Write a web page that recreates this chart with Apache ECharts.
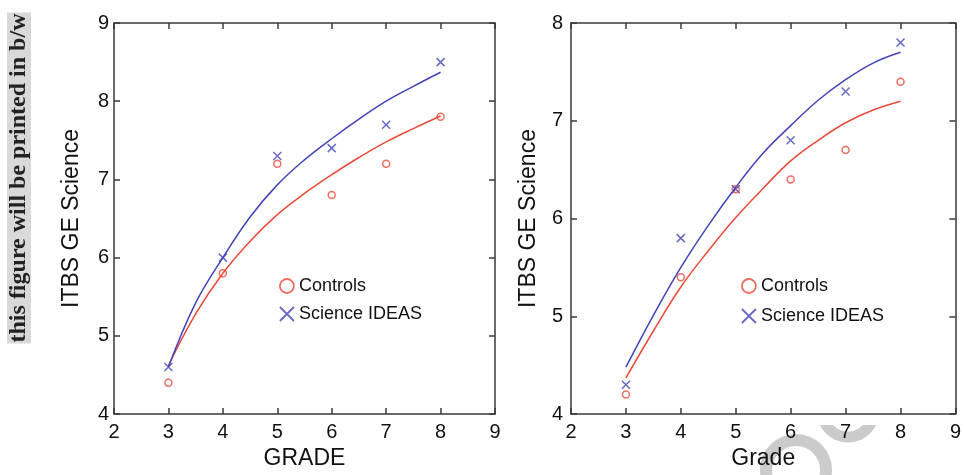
<!DOCTYPE html>
<html>
<head>
<meta charset="utf-8">
<script src="https://cdn.jsdelivr.net/npm/echarts@6/dist/echarts.min.js"></script>
<style>
  html, body { margin: 0; padding: 0; background: #fff; }
  #chart { width: 964px; height: 475px; }
</style>
</head>
<body>
<div id="chart"></div>
<script>
// observed scores per grade
const grades = [3, 4, 5, 6, 7, 8];
const controlsLeft = [4.4, 5.8, 7.2, 6.8, 7.2, 7.8];
const ideasLeft = [4.6, 6.0, 7.3, 7.4, 7.7, 8.5];
const controlsRight = [4.2, 5.4, 6.3, 6.4, 6.7, 7.4];
const ideasRight = [4.3, 5.8, 6.3, 6.8, 7.3, 7.8];

// fitted curves, every half grade
const fitGrades = [3, 3.5, 4, 4.5, 5, 5.5, 6, 6.5, 7, 7.5, 8];
const fitControlsLeft = [4.62, 5.28, 5.8, 6.21, 6.55, 6.82, 7.06, 7.28, 7.48, 7.65, 7.81];
const fitIdeasLeft = [4.6, 5.42, 6.0, 6.52, 6.93, 7.25, 7.52, 7.77, 8.0, 8.19, 8.37];
const fitControlsRight = [4.37, 4.85, 5.3, 5.67, 6.01, 6.31, 6.59, 6.8, 6.98, 7.11, 7.2];
const fitIdeasRight = [4.48, 5.01, 5.5, 5.93, 6.32, 6.67, 6.95, 7.21, 7.42, 7.59, 7.7];

// axis ranges
const xRange = [2, 9];
const yRangeLeft = [4, 9];
const yRangeRight = [4, 8];

const RED = '#ea4a3a';
const BLUE = '#4343b8';
const AXIS = '#3a3a3a';
const FONT = '"Liberation Sans", Arial, sans-serif';
const CROSS = 'path://M0,0L10,10M10,0L0,10';

const pairs = (xs, ys) => xs.map((x, i) => [x, ys[i]]);

function xAxes(grid, name, gap) {
  const base = {
    gridIndex: grid, type: 'value', min: xRange[0], max: xRange[1], interval: 1,
    axisLine: { show: true, onZero: false, lineStyle: { color: AXIS, width: 1.5 } },
    axisTick: { show: true, inside: true, length: 6, lineStyle: { color: AXIS, width: 1.5 } },
    splitLine: { show: false }
  };
  return [
    Object.assign({}, base, {
      position: 'bottom', name: name, nameLocation: 'middle', nameGap: gap,
      nameTextStyle: { fontSize: 23, color: '#111', fontFamily: FONT },
      axisLabel: { margin: 8, fontSize: 20, color: '#111', fontFamily: FONT }
    }),
    Object.assign({}, base, { position: 'top', axisLabel: { show: false } })
  ];
}

function yAxes(grid, range, gap, margin) {
  const base = {
    gridIndex: grid, type: 'value', min: range[0], max: range[1], interval: 1,
    axisLine: { show: true, onZero: false, lineStyle: { color: AXIS, width: 1.5 } },
    axisTick: { show: true, inside: true, length: 6, lineStyle: { color: AXIS, width: 1.5 } },
    splitLine: { show: false }
  };
  return [
    Object.assign({}, base, {
      position: 'left', name: 'ITBS GE Science', nameLocation: 'middle', nameGap: gap,
      nameTextStyle: { fontSize: 23, color: '#111', fontFamily: FONT },
      axisLabel: { margin: margin, fontSize: 20, color: '#111', fontFamily: FONT }
    }),
    Object.assign({}, base, { position: 'right', axisLabel: { show: false } })
  ];
}

function seriesFor(ax, ctrl, ideas, fitCtrl, fitIdeas) {
  return [
    {
      name: 'Controls fit', type: 'line', xAxisIndex: ax, yAxisIndex: ax, smooth: 0.4,
      showSymbol: false, data: pairs(fitGrades, fitCtrl),
      lineStyle: { color: RED, width: 1.5 }, itemStyle: { color: RED }, z: 2
    },
    {
      name: 'Science IDEAS fit', type: 'line', xAxisIndex: ax, yAxisIndex: ax, smooth: 0.4,
      showSymbol: false, data: pairs(fitGrades, fitIdeas),
      lineStyle: { color: BLUE, width: 1.5 }, itemStyle: { color: BLUE }, z: 2
    },
    {
      name: 'Controls', type: 'scatter', xAxisIndex: ax, yAxisIndex: ax,
      symbol: 'circle', symbolSize: 7, data: pairs(grades, ctrl),
      itemStyle: { color: 'rgba(255,255,255,0)', borderColor: RED, borderWidth: 1.5 }, z: 3
    },
    {
      name: 'Science IDEAS', type: 'scatter', xAxisIndex: ax, yAxisIndex: ax,
      symbol: CROSS, symbolSize: 8, data: pairs(grades, ideas),
      itemStyle: { color: 'rgba(255,255,255,0)', borderColor: BLUE, borderWidth: 1.5 }, z: 3
    }
  ];
}

function legendAt(left, top, gap) {
  return {
    data: ['Controls', 'Science IDEAS'], orient: 'vertical', left: left, top: top,
    itemGap: gap, itemWidth: 14, itemHeight: 14, selectedMode: false,
    itemStyle: { borderWidth: 1.8 },
    textStyle: { fontSize: 18, color: '#111', fontFamily: FONT }
  };
}

const chart = echarts.init(document.getElementById('chart'));
chart.setOption({
  animation: false,
  backgroundColor: '#fff',
  grid: [
    { left: 114, top: 23, width: 381, height: 393 },
    { left: 571, top: 23, width: 388, height: 402 }
  ],
  xAxis: [].concat(xAxes(0, 'GRADE', 33), xAxes(1, 'Grade', 28)),
  yAxis: [].concat(yAxes(0, yRangeLeft, 31, 5), yAxes(1, yRangeRight, 31, 8)),
  legend: [legendAt(274, 272, 10), legendAt(736, 272, 12)],
  graphic: [
    // faint watermark rings, partly hidden behind the plot area
    { type: 'circle', z: -3, shape: { cx: 796, cy: 470, r: 30 },
      style: { fill: 'none', stroke: '#cbcbcb', lineWidth: 12 } },
    { type: 'circle', z: -3, shape: { cx: 848, cy: 411, r: 26 },
      style: { fill: 'none', stroke: '#cbcbcb', lineWidth: 11 } },
    { type: 'rect', z: -2, shape: { x: 571, y: 23, width: 388, height: 402 },
      style: { fill: '#fff' } },
    {
      type: 'text', x: 19, y: 178, rotation: Math.PI / 2, z: 5,
      style: {
        text: 'this figure will be printed in b/w',
        font: 'bold 24px "Liberation Serif", "Times New Roman", serif',
        fill: '#222', align: 'center', verticalAlign: 'middle',
        backgroundColor: '#d9d9d9', padding: [0, 1]
      }
    }
  ],
  series: [].concat(
    seriesFor(0, controlsLeft, ideasLeft, fitControlsLeft, fitIdeasLeft),
    seriesFor(2, controlsRight, ideasRight, fitControlsRight, fitIdeasRight)
  )
});
</script>
</body>
</html>
